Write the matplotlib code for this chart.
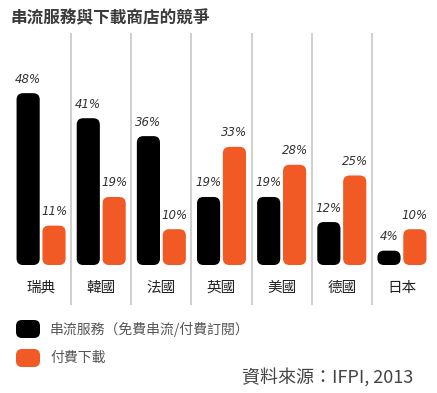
import matplotlib
matplotlib.use("Agg")
import matplotlib.pyplot as plt
from matplotlib.patches import FancyBboxPatch

plt.rcParams['font.family'] = ['Noto Sans CJK TC', 'DejaVu Sans']

countries = ['瑞典', '韓國', '法國', '英國', '美國', '德國', '日本']
streaming = [48, 41, 36, 19, 19, 12, 4]
download = [11, 19, 10, 33, 28, 25, 10]
series_names = ['串流服務（免費串流/付費訂閱）', '付費下載']
colors = ['#000000', '#f15a24']

W, H = 437, 393
fig = plt.figure(figsize=(W / 100, H / 100), dpi=100)

# axes in pixel terms: x 11..432, y 33..305 (baseline at 265)
px_per_val = 3.58
ax = fig.add_axes([11 / W, 1 - 305 / H, 421 / W, 272 / H])
ax.set_xlim(-0.5, len(countries) - 0.5)
ax.set_ylim(-40 / px_per_val, 232 / px_per_val)
ax.axis('off')

px_per_x = 421 / len(countries)
aspect = px_per_x / px_per_val
bw = 0.385
offsets = [-0.215, 0.215]
rad = 6.5 / px_per_x

for i, name in enumerate(countries):
    for vals, off, c in zip([streaming, download], offsets, colors):
        v = vals[i]
        x0 = i + off - bw / 2
        p = FancyBboxPatch((x0, 0), bw, v,
                           boxstyle='round,pad=0,rounding_size=%f' % rad,
                           mutation_aspect=aspect, fc=c, ec='none')
        ax.add_patch(p)
        ax.text(i + off, v + 14 / px_per_val, '%d%%' % v, ha='center', va='center',
                fontsize=8.5, style='italic', color='#333333',
                family=['Liberation Sans Narrow', 'DejaVu Sans'])
    ax.text(i, -23 / px_per_val, name, ha='center', va='center', fontsize=10.5, color='#222222')
    if i > 0:
        ax.plot([i - 0.5, i - 0.5], [-40 / px_per_val, 232 / px_per_val], color='#cccccc', lw=1.3)

fig.text(10 / W, 1 - 18 / H, '串流服務與下載商店的競爭', ha='left', va='center',
         fontsize=12, color='#3a3a3a', weight='bold')

# legend
lax = fig.add_axes([0, 0, 1, 1])
lax.set_xlim(0, W)
lax.set_ylim(H, 0)
lax.axis('off')
for (yc, name, c) in zip([329, 358], series_names, colors):
    lax.add_patch(FancyBboxPatch((16, yc - 9), 24, 18,
                                 boxstyle='round,pad=0,rounding_size=6', fc=c, ec='none'))
    lax.text(50, yc, name, ha='left', va='center', fontsize=10, color='#555555')

lax.text(413, 377, '資料來源：IFPI, 2013', ha='right', va='center', fontsize=13,
         color='#444444', weight='light')

fig.savefig('out.png', dpi=100)
